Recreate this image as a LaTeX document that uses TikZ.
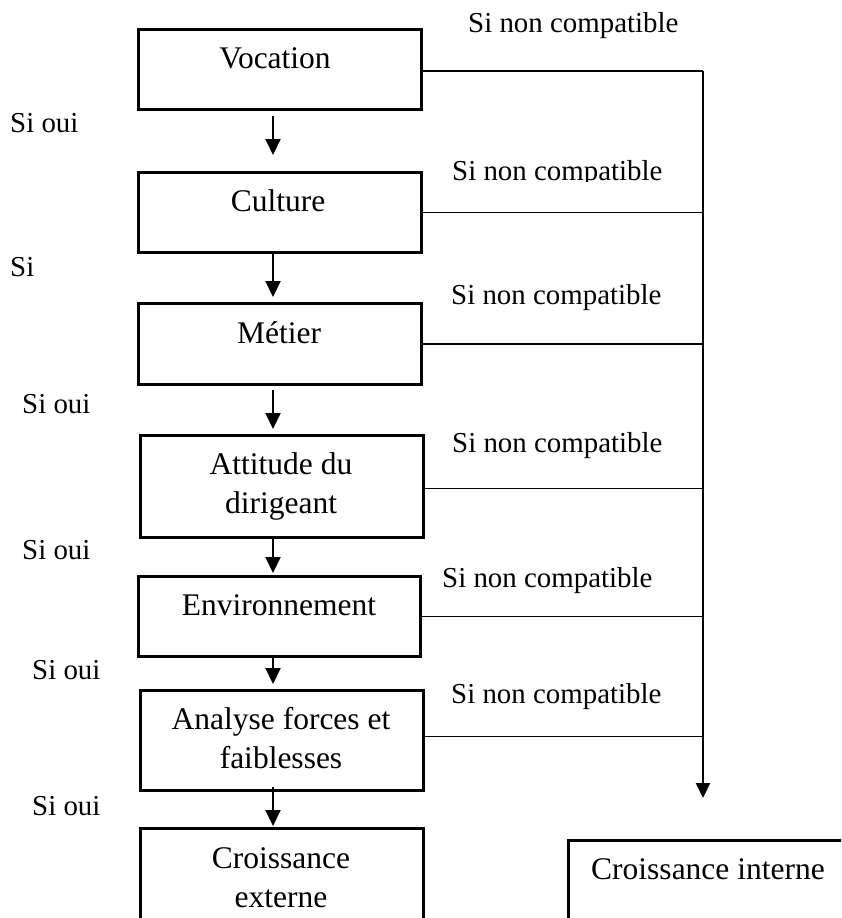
\documentclass[tikz,border=0pt]{standalone}
\usepackage{fontspec}
\setmainfont{Liberation Serif}
\usetikzlibrary{arrows.meta,calc}
\begin{document}
\begin{tikzpicture}[x=1pt,y=-1pt,
  box/.style={draw=black,line width=2.7pt,inner sep=0pt,anchor=north west},
  boxtext/.style={font=\fontsize{31.5}{39}\selectfont,align=center,anchor=base,inner sep=0pt},
  lbl/.style={font=\fontsize{28.9}{35}\selectfont,anchor=base west,inner sep=0pt},
  flow/.style={line width=2.1pt,-{Triangle[length=16pt,width=15pt]}},
  link/.style={line width=1.4pt},
  trunkline/.style={line width=2.1pt,-{Triangle[length=15pt,width=14pt]}}]

% page frame
\useasboundingbox (0,0) rectangle (841,918);
\fill[white] (0,0) rectangle (841,918);
\clip (0,0) rectangle (841,918);

% decision boxes
\node[box,minimum width=283pt,minimum height=80pt]  (voc) at (137,28)  {};
\node[box,minimum width=283pt,minimum height=80pt]  (cul) at (137,171) {};
\node[box,minimum width=283pt,minimum height=81pt]  (met) at (137,302) {};
\node[box,minimum width=283pt,minimum height=102pt] (att) at (139,434) {};
\node[box,minimum width=282pt,minimum height=80pt]  (env) at (137,575) {};
\node[box,minimum width=283pt,minimum height=100pt] (ana) at (139,689) {};
\node[box,minimum width=283pt,minimum height=130pt] (ext) at (139,827) {};
\node[box,minimum width=300pt,minimum height=80pt]  (int) at (567,839) {};

% box captions (multi-line captions are placed by their last baseline)
\node[boxtext] (vocT) at (275,68)  {Vocation};
\node[boxtext] (culT) at (278,211) {Culture};
\node[boxtext] (metT) at (279,343) {Métier};
\node[boxtext] (attT) at (281,513) {Attitude du\\dirigeant};
\node[boxtext] (envT) at (279,615) {Environnement};
\node[boxtext] (anaT) at (281,768) {Analyse forces et\\faiblesses};
\node[boxtext] (extT) at (281,907) {Croissance\\externe};
\node[boxtext] (intT) at (708,879) {Croissance interne};

% "yes" labels on the left
\node[lbl] (y1) at (10,132) {Si oui};
\node[lbl] (y2) at (10,276) {Si};
\node[lbl] (y3) at (22,413) {Si oui};
\node[lbl] (y4) at (22,559) {Si oui};
\node[lbl] (y5) at (32,679) {Si oui};
\node[lbl] (y6) at (32,815) {Si oui};

% "not compatible" labels
\node[lbl] (n1) at (468,32)  {Si non compatible};
\begin{scope}
  \clip (430,140) rectangle (700,181);
  \node[lbl] (n2) at (452,180) {Si non compatible};
\end{scope}
\node[lbl] (n3) at (451,304) {Si non compatible};
\node[lbl] (n4) at (452,452) {Si non compatible};
\node[lbl] (n5) at (442,587) {Si non compatible};
\node[lbl] (n6) at (451,703) {Si non compatible};

% main vertical flow
\coordinate (spine) at (273,0);
\draw[flow] ($(voc.south -| spine)+(0,5)$)  -- ($(cul.north -| spine)+(0,-16)$);
\draw[flow] (cul.south -| spine)             -- ($(met.north -| spine)+(0,-5)$);
\draw[flow] ($(met.south -| spine)+(0,4)$)  -- ($(att.north -| spine)+(0,-5)$);
\draw[flow] (att.south -| spine)             -- ($(env.north -| spine)+(0,-2)$);
\draw[flow] (env.south -| spine)             -- ($(ana.north -| spine)+(0,-5)$);
\draw[flow] ($(ana.south -| spine)+(0,-5)$) -- ($(ext.north -| spine)+(0,-1)$);

% rejection trunk on the right
\coordinate (trunkTop) at (703,71);
\coordinate (trunkEnd) at (703,798);
\draw[link] (voc.east |- trunkTop) -- (trunkTop);
\draw[link] (cul.east) -- (cul.east -| trunkTop);
\draw[link] (met.east) -- (met.east -| trunkTop);
\draw[link] ($(att.east)+(0,2)$) coordinate (attR) -- (attR -| trunkTop);
\draw[link] (env.east) -- (env.east -| trunkTop);
\draw[link] ($(ana.east)+(0,-4)$) coordinate (anaR) -- (anaR -| trunkTop);
\draw[trunkline] (trunkTop) -- (trunkEnd);
\end{tikzpicture}
\end{document}
